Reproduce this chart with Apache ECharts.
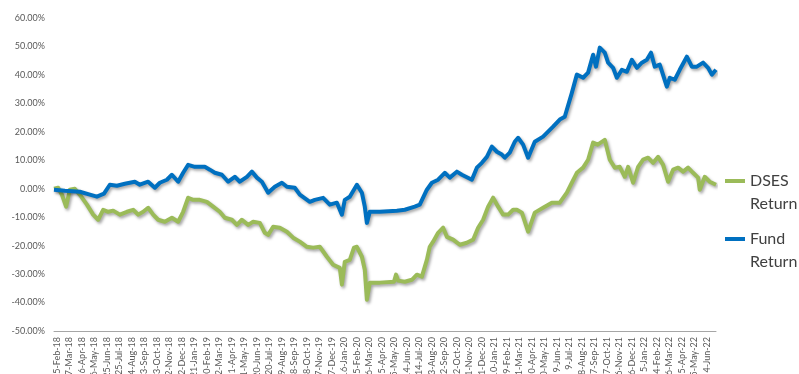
<!DOCTYPE html>
<html><head><meta charset="utf-8">
<script src="https://cdn.jsdelivr.net/npm/echarts@6/dist/echarts.min.js"></script>
<style>html,body{margin:0;padding:0;background:#fff}#c{width:799px;height:374px}</style>
</head><body><div id="c"></div>
<script>
const tickLabels = ['25-Feb-18','27-Mar-18','26-Apr-18','26-May-18','25-Jun-18','25-Jul-18','24-Aug-18','23-Sep-18','23-Oct-18','22-Nov-18','22-Dec-18','21-Jan-19','20-Feb-19','22-Mar-19','21-Apr-19','21-May-19','20-Jun-19','20-Jul-19','19-Aug-19','18-Sep-19','18-Oct-19','17-Nov-19','17-Dec-19','16-Jan-20','15-Feb-20','16-Mar-20','15-Apr-20','15-May-20','14-Jun-20','14-Jul-20','13-Aug-20','12-Sep-20','12-Oct-20','11-Nov-20','11-Dec-20','10-Jan-21','9-Feb-21','11-Mar-21','10-Apr-21','10-May-21','9-Jun-21','9-Jul-21','8-Aug-21','7-Sep-21','7-Oct-21','6-Nov-21','6-Dec-21','5-Jan-22','4-Feb-22','6-Mar-22','5-Apr-22','5-May-22','4-Jun-22'];

const xStart = '2018-02-18';
const xEnd = '2022-06-26';

const seriesNames = ['DSES Return', 'Fund Return'];

const dsesDates = ['2018-02-18','2018-02-28','2018-03-09','2018-03-19','2018-03-28','2018-04-09','2018-04-21','2018-05-08','2018-05-23','2018-06-04','2018-06-16','2018-06-28','2018-07-10','2018-07-26','2018-08-12','2018-08-27','2018-09-08','2018-09-20','2018-10-02','2018-10-14','2018-10-26','2018-11-11','2018-11-28','2018-12-13','2018-12-25','2019-01-06','2019-01-18','2019-02-03','2019-02-20','2019-03-07','2019-03-23','2019-04-04','2019-04-21','2019-05-03','2019-05-15','2019-05-30','2019-06-11','2019-06-27','2019-07-09','2019-07-17','2019-07-29','2019-08-14','2019-08-31','2019-09-15','2019-10-01','2019-10-18','2019-11-02','2019-11-18','2019-12-05','2019-12-20','2020-01-05','2020-01-10','2020-01-17','2020-01-29','2020-02-08','2020-02-15','2020-02-27','2020-03-05','2020-03-10','2020-03-17','2020-04-10','2020-05-14','2020-05-19','2020-05-24','2020-06-09','2020-06-26','2020-07-08','2020-07-20','2020-08-01','2020-08-08','2020-08-16','2020-08-28','2020-09-09','2020-09-18','2020-10-03','2020-10-19','2020-11-05','2020-11-20','2020-12-02','2020-12-14','2020-12-26','2021-01-07','2021-01-19','2021-01-31','2021-02-12','2021-02-24','2021-03-05','2021-03-17','2021-04-01','2021-04-17','2021-05-07','2021-05-28','2021-06-16','2021-07-03','2021-07-15','2021-07-27','2021-08-11','2021-08-23','2021-09-04','2021-09-15','2021-10-02','2021-10-14','2021-10-26','2021-11-07','2021-11-19','2021-11-27','2021-12-09','2021-12-21','2022-01-02','2022-01-14','2022-01-26','2022-02-07','2022-02-19','2022-03-03','2022-03-15','2022-03-27','2022-04-08','2022-04-20','2022-05-02','2022-05-14','2022-05-18','2022-05-30','2022-06-11','2022-06-26'];
const dsesValues = [0,0.35,-2.1,-6.3,-0.35,0,-2.1,-5.6,-9.1,-10.9,-7.4,-8.1,-7.7,-9.1,-8.1,-7.4,-9.1,-8.1,-6.7,-9.1,-10.9,-11.6,-10.2,-11.6,-8.1,-3.16,-3.9,-3.9,-4.6,-6.3,-8.1,-10.2,-10.9,-12.7,-10.9,-12.7,-11.6,-12.0,-15.5,-16.2,-13.4,-13.7,-15.1,-17.2,-18.6,-20.4,-20.7,-20.4,-23.9,-26.7,-27.8,-33.7,-25.7,-25.0,-20.7,-20.4,-23.9,-28.5,-39.0,-33.0,-33.0,-32.7,-30.2,-32.3,-32.7,-32.0,-30.2,-30.9,-25.0,-20.4,-18.6,-15.5,-13.7,-16.9,-17.9,-19.7,-19.0,-17.9,-13.7,-10.9,-6.3,-3.16,-6.3,-9.1,-9.1,-7.4,-7.4,-8.4,-15.1,-8.4,-6.7,-4.9,-4.9,-1.4,2.1,5.6,7.4,10.2,16.2,15.5,17.2,10.2,7.4,7.7,4.2,7.7,2.1,7.7,10.2,10.9,9.1,11.2,8.4,2.46,6.7,7.4,6.0,7.4,5.6,3.9,-0.35,4.2,2.46,1.4];

const fundDates = ['2018-02-18','2018-03-16','2018-04-21','2018-05-15','2018-06-01','2018-06-18','2018-07-02','2018-07-19','2018-08-07','2018-08-31','2018-09-12','2018-10-02','2018-10-18','2018-10-30','2018-11-16','2018-11-28','2018-12-13','2018-12-25','2019-01-06','2019-01-22','2019-02-15','2019-02-27','2019-03-11','2019-03-28','2019-04-12','2019-04-28','2019-05-10','2019-05-27','2019-06-08','2019-06-20','2019-07-02','2019-07-17','2019-08-02','2019-08-19','2019-08-31','2019-09-19','2019-10-01','2019-10-25','2019-11-06','2019-11-26','2019-12-12','2019-12-29','2020-01-10','2020-01-17','2020-01-29','2020-02-15','2020-02-27','2020-03-05','2020-03-10','2020-03-17','2020-04-10','2020-05-21','2020-06-09','2020-07-03','2020-07-15','2020-08-01','2020-08-13','2020-08-28','2020-09-13','2020-09-25','2020-10-12','2020-10-24','2020-11-17','2020-11-29','2020-12-11','2020-12-23','2021-01-04','2021-01-16','2021-01-28','2021-02-04','2021-02-16','2021-02-28','2021-03-08','2021-03-20','2021-04-01','2021-04-17','2021-05-07','2021-05-31','2021-06-16','2021-06-28','2021-07-15','2021-07-27','2021-08-11','2021-08-23','2021-09-04','2021-09-11','2021-09-20','2021-10-02','2021-10-10','2021-10-22','2021-10-31','2021-11-12','2021-11-24','2021-12-06','2021-12-18','2021-12-30','2022-01-11','2022-01-21','2022-01-30','2022-02-11','2022-02-28','2022-03-07','2022-03-19','2022-03-31','2022-04-17','2022-04-29','2022-05-11','2022-05-26','2022-06-07','2022-06-16','2022-06-26'];
const fundValues = [-0.35,-0.7,-1.05,-2.1,-2.8,-1.75,1.4,1.05,1.75,2.46,1.4,2.46,0.35,2.1,3.16,4.9,2.46,5.6,8.4,7.7,7.7,6.7,5.6,4.9,2.46,4.2,2.46,4.2,6.0,3.9,2.46,-1.4,0.7,2.1,0.7,0.35,-2.1,-4.6,-3.9,-3.2,-5.6,-4.9,-9.1,-3.9,-2.8,1.4,-1.4,-6.3,-12.0,-8.1,-8.1,-7.7,-7.4,-6.3,-5.6,-0.35,2.1,3.16,5.6,3.9,6.0,4.9,3.16,7.4,9.1,11.2,14.8,13.0,12.0,10.9,12.7,16.5,17.9,15.5,10.9,16.5,18.3,21.8,24.3,25.3,33.7,40.1,39.0,40.8,47.1,42.9,49.6,47.8,44.3,42.5,39.0,41.8,41.1,45.3,42.5,44.3,45.3,47.8,42.9,43.6,35.9,39.0,38.3,41.8,46.4,42.9,42.9,44.3,42.5,40.1,41.8];

const MONTHS = ['Jan','Feb','Mar','Apr','May','Jun','Jul','Aug','Sep','Oct','Nov','Dec'];
function parseTick(s) {
  const p = s.split('-');
  return new Date(2000 + parseInt(p[2], 10), MONTHS.indexOf(p[1]), parseInt(p[0], 10)).getTime();
}
function parseIso(s) {
  const p = s.split('-').map(Number);
  return new Date(p[0], p[1] - 1, p[2]).getTime();
}
const tickValues = tickLabels.map(parseTick);
function labelFor(v) {
  let best = '', bd = Infinity;
  tickValues.forEach((t, i) => { const d = Math.abs(t - v); if (d < bd) { bd = d; best = tickLabels[i]; } });
  return bd < 43200000 ? best : '';
}

const dsesData = dsesDates.map((d, i) => [parseIso(d), dsesValues[i]]);
const fundData = fundDates.map((d, i) => [parseIso(d), fundValues[i]]);

const FONT = 'Lato';
const shadow = { shadowColor: 'rgba(0,0,0,0.35)', shadowBlur: 3, shadowOffsetX: 1.5, shadowOffsetY: 2 };

function legendFor(name, top) {
  return {
    data: [name], left: 725, top: top, orient: 'vertical', padding: 0,
    icon: 'rect', itemWidth: 20, itemHeight: 4, selectedMode: false,
    formatter: function (n) { return '\u00a0\n' + n.replace(' ', '\n'); },
    textStyle: { fontFamily: FONT, fontSize: 16, color: '#404040', lineHeight: 23 }
  };
}

const chart = echarts.init(document.getElementById('c'), null, { renderer: 'canvas' });
chart.setOption({
  animation: false,
  backgroundColor: '#ffffff',
  grid: { left: 54, right: 83, top: 18, bottom: 43, containLabel: false, outerBoundsMode: 'none' },
  xAxis: [
    {
      type: 'value',
      min: parseIso(xStart), max: parseIso(xEnd),
      axisLine: { show: false }, axisTick: { show: false }, splitLine: { show: false },
      axisLabel: {
        customValues: tickValues,
        rotate: 90, margin: 6, fontSize: 9, fontFamily: FONT, color: '#595959',
        hideOverlap: false, showMinLabel: true, showMaxLabel: true,
        formatter: function (v) { return labelFor(v); }
      }
    },
    {
      type: 'value',
      min: parseIso(xStart), max: parseIso(xEnd),
      position: 'bottom',
      axisLine: { show: true, onZero: true, lineStyle: { color: '#A6A6A6', width: 1 } },
      axisTick: { show: false }, axisLabel: { show: false }, splitLine: { show: false }
    }
  ],
  yAxis: {
    type: 'value', min: -50, max: 60, interval: 10,
    axisLine: { show: false }, axisTick: { show: false }, splitLine: { show: false },
    axisLabel: {
      fontSize: 9, fontFamily: FONT, color: '#595959', margin: 9,
      formatter: function (v) { return v.toFixed(2) + '%'; }
    }
  },
  legend: [legendFor(seriesNames[0], 146.5), legendFor(seriesNames[1], 204.5)],
  series: [
    {
      name: seriesNames[0], type: 'line', data: dsesData, showSymbol: false, symbol: 'none',
      lineStyle: Object.assign({ color: '#9BBB59', width: 4, join: 'round' }, shadow),
      itemStyle: { color: '#9BBB59' }
    },
    {
      name: seriesNames[1], type: 'line', data: fundData, showSymbol: false, symbol: 'none',
      lineStyle: Object.assign({ color: '#0070C0', width: 4, join: 'round' }, shadow),
      itemStyle: { color: '#0070C0' }
    }
  ]
});
</script>
</body></html>
